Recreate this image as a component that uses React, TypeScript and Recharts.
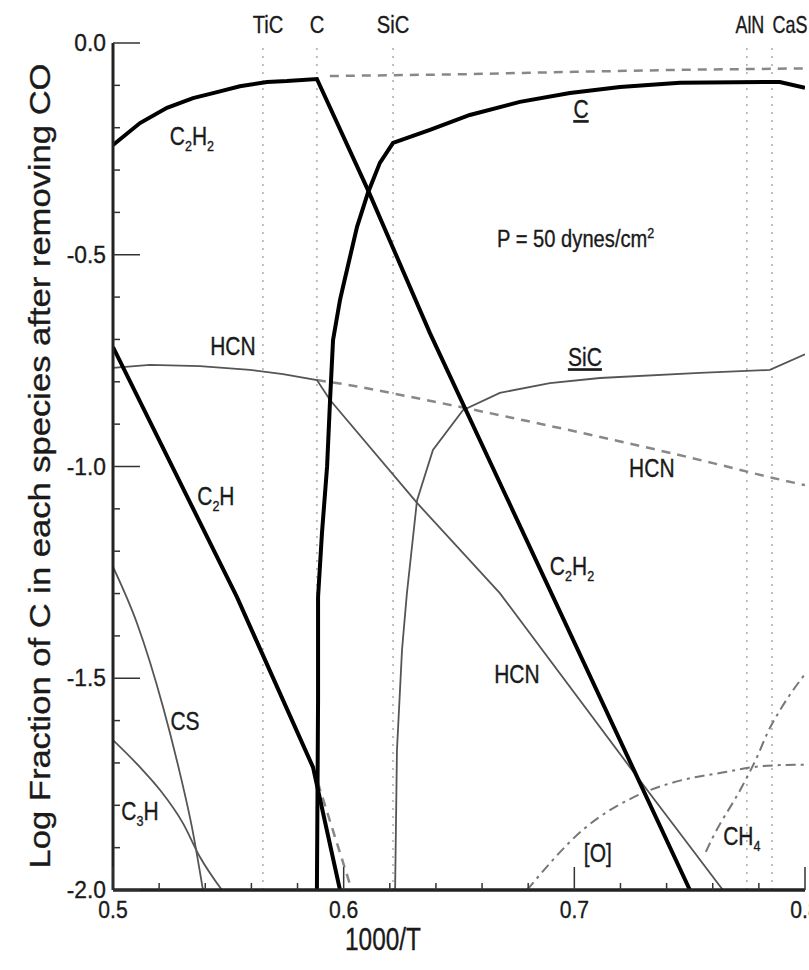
import React from 'react';
import { LineChart, Line, XAxis, YAxis, ReferenceLine, ReferenceDot } from 'recharts';

const FONT = '"Liberation Sans", Arial, sans-serif';

// x = 1000/T, y = log fraction of C
const c2h2 = [
  { x: 0.5, y: -0.241 }, { x: 0.5117, y: -0.189 }, { x: 0.5234, y: -0.153 }, { x: 0.5347, y: -0.13 },
  { x: 0.5451, y: -0.116 }, { x: 0.555, y: -0.102 }, { x: 0.5668, y: -0.092 }, { x: 0.5754, y: -0.09 },
  { x: 0.5884, y: -0.085 }, { x: 0.6105, y: -0.347 }, { x: 0.6374, y: -0.685 }, { x: 0.7501, y: -2.0 },
];
const c2h = [
  { x: 0.5, y: -0.718 }, { x: 0.5537, y: -1.308 }, { x: 0.5867, y: -1.71 }, { x: 0.5984, y: -2.0 },
];
const c2hNoC = [
  { x: 0.5867, y: -1.71 }, { x: 0.6035, y: -2.0 },
];
const carbon = [
  { x: 0.5884, y: -2.0 }, { x: 0.5889, y: -1.551 }, { x: 0.5889, y: -1.308 }, { x: 0.5906, y: -1.157 },
  { x: 0.5928, y: -1.001 }, { x: 0.5941, y: -0.843 }, { x: 0.5954, y: -0.701 }, { x: 0.5984, y: -0.607 },
  { x: 0.5997, y: -0.576 }, { x: 0.6058, y: -0.434 }, { x: 0.6105, y: -0.354 }, { x: 0.6157, y: -0.283 },
  { x: 0.6214, y: -0.236 }, { x: 0.6374, y: -0.205 }, { x: 0.6547, y: -0.17 }, { x: 0.6764, y: -0.139 },
  { x: 0.6981, y: -0.118 }, { x: 0.7198, y: -0.104 }, { x: 0.7458, y: -0.094 }, { x: 0.7891, y: -0.092 },
  { x: 0.8, y: -0.106 },
];
const carbonNoSiC = [
  { x: 0.594, y: -0.078 }, { x: 0.65, y: -0.074 }, { x: 0.7, y: -0.068 }, { x: 0.75, y: -0.063 }, { x: 0.8, y: -0.06 },
];
const hcn = [
  { x: 0.5, y: -0.767 }, { x: 0.516, y: -0.76 }, { x: 0.5377, y: -0.763 }, { x: 0.5594, y: -0.772 },
  { x: 0.5737, y: -0.782 }, { x: 0.5884, y: -0.796 }, { x: 0.5941, y: -0.843 }, { x: 0.6318, y: -1.086 },
  { x: 0.6677, y: -1.299 }, { x: 0.7241, y: -1.71 }, { x: 0.7644, y: -2.0 },
];
const hcnNoC = [
  { x: 0.5884, y: -0.796 }, { x: 0.6027, y: -0.808 }, { x: 0.6274, y: -0.834 }, { x: 0.6634, y: -0.874 },
  { x: 0.7601, y: -0.992 }, { x: 0.7861, y: -1.027 }, { x: 0.8, y: -1.044 },
];
const sic = [
  { x: 0.6223, y: -2.0 }, { x: 0.6231, y: -1.67 }, { x: 0.6253, y: -1.433 }, { x: 0.6274, y: -1.3 },
  { x: 0.6318, y: -1.08 }, { x: 0.6387, y: -0.961 }, { x: 0.6517, y: -0.867 }, { x: 0.6677, y: -0.826 },
  { x: 0.6894, y: -0.803 }, { x: 0.7111, y: -0.791 }, { x: 0.7544, y: -0.779 }, { x: 0.7848, y: -0.772 },
  { x: 0.8, y: -0.735 },
];
const cs = [
  { x: 0.5, y: -1.237 }, { x: 0.5104, y: -1.37 }, { x: 0.5217, y: -1.568 }, { x: 0.529, y: -1.724 },
  { x: 0.5342, y: -1.851 }, { x: 0.539, y: -2.0 },
];
const c3h = [
  { x: 0.5, y: -1.646 }, { x: 0.5117, y: -1.71 }, { x: 0.5204, y: -1.764 }, { x: 0.5303, y: -1.842 },
  { x: 0.5377, y: -1.922 }, { x: 0.5472, y: -2.0 },
];
const oxygen = [
  { x: 0.6795, y: -2.0 }, { x: 0.7037, y: -1.858 }, { x: 0.7297, y: -1.771 }, { x: 0.7471, y: -1.74 },
  { x: 0.7661, y: -1.721 }, { x: 0.7774, y: -1.71 }, { x: 0.7891, y: -1.705 }, { x: 0.8, y: -1.704 },
];
const ch4 = [
  { x: 0.757, y: -1.91 }, { x: 0.7601, y: -1.875 }, { x: 0.7726, y: -1.757 }, { x: 0.7792, y: -1.686 },
  { x: 0.7839, y: -1.627 }, { x: 0.79, y: -1.568 }, { x: 0.8, y: -1.49 },
];

const xTicks = [0.5, 0.52, 0.54, 0.56, 0.58, 0.6, 0.62, 0.64, 0.66, 0.68, 0.7, 0.72, 0.74, 0.76, 0.78, 0.8];
const xMajor = [0.5, 0.6, 0.7, 0.8];
const yTicks = [-2, -1.9, -1.8, -1.7, -1.6, -1.5, -1.4, -1.3, -1.2, -1.1, -1, -0.9, -0.8, -0.7, -0.6, -0.5, -0.4, -0.3, -0.2, -0.1, 0];

// condensed phases (vertical dotted lines)
const phaseNames = ['TiC', 'C', 'SiC', 'AlN', 'CaS'];
const phaseX = [0.565, 0.5884, 0.6214, 0.7748, 0.7857];

// curve labels: [text, subscript?]
const labels = [
  { x: 0.5342, y: -0.241, parts: [['C', 0], ['2', 1], ['H', 0], ['2', 1]] },
  { x: 0.7029, y: -0.177, parts: [['C', 0]], ul: true },
  { x: 0.552, y: -0.737, parts: [['HCN', 0]] },
  { x: 0.7046, y: -0.763, parts: [['SiC', 0]], ul: true },
  { x: 0.7336, y: -1.025, parts: [['HCN', 0]] },
  { x: 0.5446, y: -1.091, parts: [['C', 0], ['2', 1], ['H', 0]] },
  { x: 0.699, y: -1.256, parts: [['C', 0], ['2', 1], ['H', 0], ['2', 1]] },
  { x: 0.6751, y: -1.511, parts: [['HCN', 0]] },
  { x: 0.5312, y: -1.622, parts: [['CS', 0]] },
  { x: 0.5117, y: -1.835, parts: [['C', 0], ['3', 1], ['H', 0]] },
  { x: 0.7102, y: -1.934, parts: [['[O]', 0]] },
  { x: 0.7726, y: -1.894, parts: [['CH', 0], ['4', 1]] },
];

const near = (a: number, list: number[]) => list.some((b) => Math.abs(a - b) < 1e-6);

// narrow text, the scan uses a condensed face
const Narrow = ({ x, y, size, anchor = 'middle', sx = 0.84, children, ...rest }: any) => (
  <text transform={`translate(${x},${y}) scale(${sx},1)`} textAnchor={anchor} fontSize={size}
    fontFamily={FONT} fill="#1a1a1a" stroke="#1a1a1a" strokeWidth={0.35} {...rest}>
    {children}
  </text>
);

const BottomTick = (p: any) => {
  const v = p.payload.value;
  const major = near(v, xMajor);
  return (
    <g>
      <line x1={p.x} x2={p.x} y1={p.y} y2={p.y - (major ? 23 : 7)} stroke="#333" strokeWidth={1.5} />
      {major && <Narrow x={p.x} y={p.y + 28} size={24} sx={0.88}>{v.toFixed(1)}</Narrow>}
    </g>
  );
};

const TopTick = (p: any) => {
  const major = near(p.payload.value, xMajor);
  return <line x1={p.x} x2={p.x} y1={p.y} y2={p.y + (major ? 25 : 7)} stroke="#444" strokeWidth={1.5} />;
};

const LeftTick = (p: any) => {
  const v = p.payload.value;
  const major = Math.abs(v * 2 - Math.round(v * 2)) < 1e-6;
  return (
    <g>
      <line x1={p.x} x2={p.x + (major ? 27 : 7)} y1={p.y} y2={p.y} stroke="#333" strokeWidth={1.5} />
      {major && <Narrow x={p.x - 7} y={p.y + 8} size={24} sx={0.95} anchor="end">{v.toFixed(1)}</Narrow>}
    </g>
  );
};

const RightTick = (p: any) => {
  const v = p.payload.value;
  const major = Math.abs(v * 2 - Math.round(v * 2)) < 1e-6;
  return <line x1={p.x} x2={p.x - (major ? 22 : 7)} y1={p.y} y2={p.y} stroke="#333" strokeWidth={1.5} />;
};

const LabelShape = (parts: any[], ul?: boolean) => (p: any) => {
  let shift = 0;
  return (
    <Narrow x={p.cx} y={p.cy} size={25} textDecoration={ul ? 'underline' : undefined}>
      {parts.map(([t, sub]: any, i: number) => {
        const dy = sub ? 6 - shift : -shift;
        shift = sub ? 6 : 0;
        return (
          <tspan key={i} dy={dy} fontSize={sub ? 15 : 25}>{t}</tspan>
        );
      })}
    </Narrow>
  );
};

const PhaseShape = (name: string, i: number) => (p: any) => (
  <Narrow x={p.cx + [5, 0, 0, 3, 18][i]} y={p.cy - 10} size={i > 2 ? 23 : 24} sx={i > 2 ? 0.78 : 0.84}>{name}</Narrow>
);

const PressureShape = (p: any) => (
  <Narrow x={p.cx} y={p.cy} size={24} anchor="start">
    P = 50 dynes/cm<tspan dy={-9} fontSize={15}>2</tspan>
  </Narrow>
);

const thick = { stroke: '#000', strokeWidth: 4 };
const thin = { stroke: '#555', strokeWidth: 1.8 };
const dashed = { stroke: '#888', strokeWidth: 2.5, strokeDasharray: '9 7' };
const dashDot = { stroke: '#777', strokeWidth: 2, strokeDasharray: '10 5 3 5' };

export default function App() {
  return (
    <div style={{ position: 'absolute', left: 0, top: 0, width: 809, height: 970, background: '#fff' }}>
      <LineChart width={809} height={970} margin={{ top: 43, right: 4, bottom: 40, left: 53 }}>
        <XAxis dataKey="x" type="number" domain={[0.5, 0.8]} ticks={xTicks} interval={0} height={40}
          tickSize={0} tickMargin={0} tick={BottomTick} tickLine={false}
          axisLine={{ stroke: '#222', strokeWidth: 3.5 }} allowDataOverflow />
        <XAxis xAxisId="top" orientation="top" dataKey="x" type="number" domain={[0.5, 0.8]} ticks={xTicks}
          interval={0} height={0} tickSize={0} tickMargin={0} tick={TopTick} tickLine={false}
          axisLine={{ stroke: '#666', strokeWidth: 3 }} allowDataOverflow />
        <YAxis type="number" domain={[-2, 0]} ticks={yTicks} interval={0} width={60}
          tickSize={0} tickMargin={0} tick={LeftTick} tickLine={false}
          axisLine={{ stroke: '#222', strokeWidth: 3 }} allowDataOverflow />
        <YAxis yAxisId="right" orientation="right" type="number" domain={[-2, 0]} ticks={yTicks} interval={0}
          width={0} tickSize={0} tickMargin={0} tick={RightTick} tickLine={false}
          axisLine={{ stroke: '#222', strokeWidth: 3 }} allowDataOverflow />

        {phaseX.map((v, i) => (
          <ReferenceLine key={phaseNames[i]} x={v} stroke="#aaa" strokeWidth={1.5} strokeDasharray="2 6" />
        ))}

        <Line data={carbonNoSiC} dataKey="y" type="linear" dot={false} isAnimationActive={false} {...dashed} />
        <Line data={hcnNoC} dataKey="y" type="monotone" dot={false} isAnimationActive={false} {...dashed} />
        <Line data={c2hNoC} dataKey="y" type="linear" dot={false} isAnimationActive={false} {...dashed} />
        <Line data={oxygen} dataKey="y" type="monotone" dot={false} isAnimationActive={false} {...dashDot} />
        <Line data={ch4} dataKey="y" type="monotone" dot={false} isAnimationActive={false} {...dashDot} />
        <Line data={hcn} dataKey="y" type="linear" dot={false} isAnimationActive={false} {...thin} />
        <Line data={sic} dataKey="y" type="linear" dot={false} isAnimationActive={false} {...thin} />
        <Line data={cs} dataKey="y" type="monotone" dot={false} isAnimationActive={false} {...thin} />
        <Line data={c3h} dataKey="y" type="monotone" dot={false} isAnimationActive={false} {...thin} />
        <Line data={c2h} dataKey="y" type="linear" dot={false} isAnimationActive={false} {...thick} />
        <Line data={c2h2} dataKey="y" type="linear" dot={false} isAnimationActive={false} {...thick} />
        <Line data={carbon} dataKey="y" type="linear" dot={false} isAnimationActive={false} {...thick} />

        {phaseNames.map((n, i) => (
          <ReferenceDot key={'p' + n} x={phaseX[i]} y={0} r={0} shape={PhaseShape(n, i)} />
        ))}
        {labels.map((l, i) => (
          <ReferenceDot key={'l' + i} x={l.x} y={l.y} r={0} shape={LabelShape(l.parts, l.ul)} />
        ))}
        <ReferenceDot x={0.6665} y={-0.482} r={0} shape={PressureShape} />
      </LineChart>
      <svg width={809} height={970} style={{ position: 'absolute', left: 0, top: 0, pointerEvents: 'none' }}>
        <text x={383} y={950} textAnchor="middle" fontSize={31} fontFamily={FONT} fill="#1a1a1a"
          stroke="#1a1a1a" strokeWidth={0.35} textLength={76} lengthAdjust="spacingAndGlyphs">1000/T</text>
        <text transform="translate(50,466) rotate(-90)" textAnchor="middle" fontSize={30} fontFamily={FONT}
          fill="#1a1a1a" stroke="#1a1a1a" strokeWidth={0.35} textLength={805} lengthAdjust="spacingAndGlyphs">
          Log Fraction of C in each species after removing CO
        </text>
      </svg>
    </div>
  );
}
